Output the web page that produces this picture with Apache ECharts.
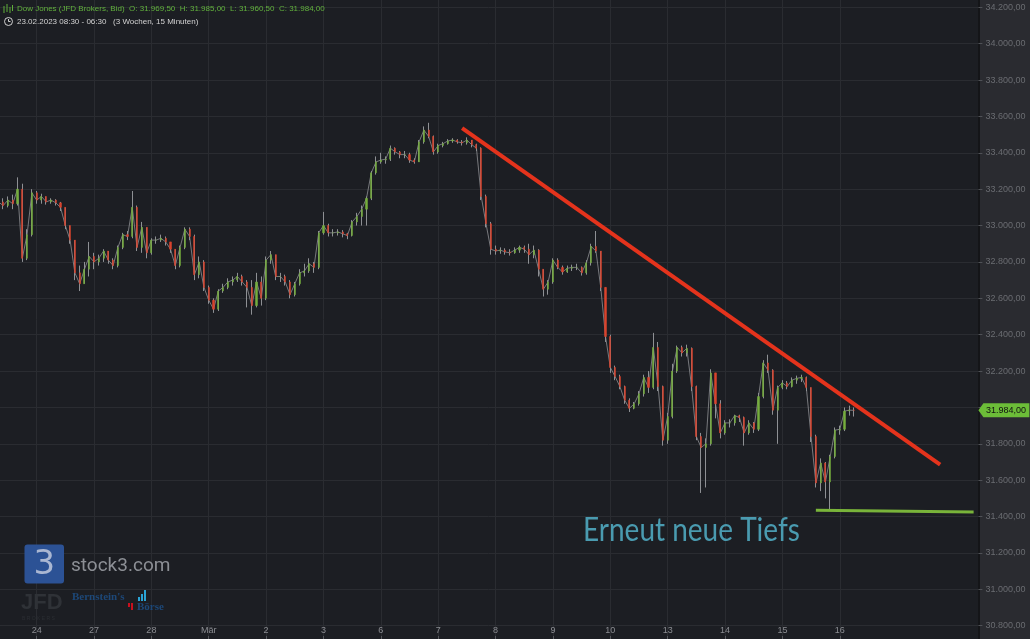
<!DOCTYPE html>
<html>
<head>
<meta charset="utf-8">
<script src="https://cdn.jsdelivr.net/npm/echarts@6/dist/echarts.min.js"></script>
<style>
html,body{margin:0;padding:0;background:#2a2b30;}
#chart{width:1030px;height:639px;}
</style>
</head>
<body>
<div id="chart"></div>
<script>
// ---- data (2-hour candles) ----
const dayLabels = ['23','24','27','28','Mär','2','3','6','7','8','9','10','13','14','15','16'];
const closes = [
33130,33110,33140,33120,33200,32820,32950,33180,
33140,33160,33130,33140,33125,33100,33000,32920,32740,32680,32760,32830,
32800,32820,32860,32810,32780,32880,32950,32940,33100,32880,32990,32850,
32920,32920,32930,32910,32870,32780,32880,32980,32940,32730,32800,32660,
32590,32540,32640,32660,32690,32700,32720,32690,32660,32560,32690,32600,
32810,32840,32720,32720,32690,32620,32680,32740,32750,32790,32770,32960,
33000,32960,32960,32965,32955,32945,33020,33050,33090,33150,33290,33350,
33360,33365,33425,33405,33390,33390,33360,33350,33460,33525,33490,33405,
33440,33450,33465,33470,33460,33455,33470,33445,33425,33160,33010,32870,
32860,32865,32855,32850,32865,32880,32870,32840,32865,32760,32650,32690,
32810,32770,32745,32765,32770,32770,32740,32795,32885,32860,32660,32390,
32220,32170,32115,32040,31995,32020,32075,32165,32110,32330,32115,31820,
31950,32200,32330,32300,32325,32115,31840,31780,31800,32190,32020,31860,
31915,31915,31955,31945,31860,31915,31880,32060,32245,32205,31985,32110,
32135,32115,32150,32160,32165,32110,31840,31585,31695,31590,31730,31875,
31880,31980,31985,31984
];
const highs = [
33160,33150,33160,33170,33265,33230,32980,33200,
33190,33175,33160,33150,33145,33130,33100,33000,32920,32780,32800,32910,
32850,32840,32870,32860,32820,32890,32960,32970,33190,33110,33020,32990,
32930,32940,32950,32940,32910,32870,32890,32990,32990,32950,32830,32810,
32670,32600,32650,32680,32710,32720,32740,32730,32700,32700,32740,32720,
32830,32860,32840,32740,32730,32700,32690,32760,32790,32820,32800,32970,
33075,33010,32980,32980,32975,32960,33030,33070,33110,33160,33300,33380,
33400,33380,33440,33430,33410,33410,33400,33370,33470,33545,33565,33495,
33450,33460,33475,33480,33475,33470,33485,33470,33450,33430,33170,33020,
32890,32880,32875,32870,32880,32890,32890,32900,32890,32870,32760,32700,
32820,32820,32780,32780,32785,32790,32775,32810,32900,32970,32860,32660,
32400,32230,32180,32120,32050,32030,32090,32180,32200,32410,32360,32120,
31970,32240,32340,32340,32345,32330,32120,31860,31830,32210,32190,32040,
31930,31935,31960,31960,31950,31930,31920,32080,32260,32290,32210,32120,
32150,32145,32165,32175,32180,32170,32110,31850,31720,31700,31740,31890,
31900,32000,32010,32000
];
const lows = [
33100,33090,33100,33090,33110,32800,32810,32940,
33120,33120,33115,33120,33110,33080,32980,32900,32700,32640,32680,32720,
32760,32780,32800,32790,32760,32770,32870,32920,32930,32860,32850,32820,
32840,32900,32910,32890,32850,32760,32770,32870,32920,32700,32710,32640,
32570,32520,32530,32630,32650,32670,32690,32670,32550,32510,32550,32560,
32590,32790,32700,32690,32670,32600,32610,32670,32720,32740,32740,32760,
32950,32940,32940,32945,32935,32925,32940,33000,33000,33000,33140,33280,
33340,33340,33355,33390,33370,33370,33345,33340,33350,33450,33480,33390,
33395,33430,33445,33455,33450,33440,33445,33430,33410,33140,32990,32840,
32840,32845,32840,32835,32845,32850,32850,32790,32820,32720,32610,32620,
32680,32760,32730,32740,32750,32755,32725,32730,32780,32850,32640,32360,
32190,32150,32100,32020,31975,31990,32010,32060,32080,32100,32090,31790,
31800,31940,32190,32280,32280,32090,31820,31530,31560,31790,31940,31830,
31850,31890,31900,31920,31790,31850,31860,31870,32050,32190,31960,31800,
32100,32100,32110,32130,32140,32090,31810,31560,31540,31500,31440,31720,
31850,31870,31955,31950
];
const lastPrice = 31984;
const trendLine = [[97, 33535], [197, 31686]];     // red resistance line
const supportLine = [[171, 31435], [204, 31425]];  // green support line
const yMin = 30600, yMax = 34400, yStep = 200;
const totalSlots = 206;

// ---- build categories (2h slots; first slot of every day carries the label) ----
const categories = [];
dayLabels.forEach((day, di) => {
  const n = di === 0 ? 8 : 12;
  for (let s = 0; s < n; s++) categories.push(s === 0 && di > 0 ? day : day + '·' + s);
});
while (categories.length < totalSlots) categories.push('+' + categories.length);
const isDayStart = (idx) => { const v = categories[idx]; return v.indexOf('·') < 0 && v[0] !== '+'; };

const opens = closes.map((c, i) => i === 0 ? c : closes[i - 1]);
const wickData = closes.map((c, i) => [opens[i], c, lows[i], highs[i]]);
const bodyData = closes.map((c, i) => [opens[i], c, Math.min(opens[i], c), Math.max(opens[i], c)]);

function fmt(v) {
  const s = String(Math.round(v));
  return s.slice(0, -3) + '.' + s.slice(-3) + ',00';
}

const chart = echarts.init(document.getElementById('chart'), null, {renderer: 'canvas'});
const F = 'Liberation Sans, Arial, sans-serif';
chart.setOption({
  animation: false,
  backgroundColor: '#2a2b30',
  grid: {
    left: -1.6, top: -29.1, width: 980, height: 691.2,
    show: true, backgroundColor: '#1c1e23', borderWidth: 0,
    containLabel: false, outerBoundsMode: 'none'
  },
  xAxis: {
    type: 'category',
    data: categories,
    boundaryGap: false,
    offset: -26.1,
    axisLine: {show: false},
    axisTick: {show: true, interval: (i) => isDayStart(i), length: 5, lineStyle: {color: '#55575c'}},
    axisLabel: {
      show: true, inside: true, margin: 1, interval: (i) => isDayStart(i),
      formatter: (v) => v, color: '#8b8d92', fontSize: 9, fontFamily: F
    },
    splitLine: {show: true, interval: (i) => isDayStart(i), lineStyle: {color: '#2a2c31', width: 1}}
  },
  yAxis: {
    type: 'value',
    position: 'right',
    min: yMin, max: yMax, interval: yStep,
    axisLine: {show: true, lineStyle: {color: '#141518', width: 2}},
    axisTick: {show: true, length: 4, lineStyle: {color: '#4f5156'}},
    axisLabel: {margin: 7, color: '#6a6c71', fontSize: 9, fontFamily: F, formatter: fmt},
    splitLine: {show: true, lineStyle: {color: '#2a2c31', width: 1}}
  },
  series: [
    {
      type: 'line', name: 'path', data: closes, symbol: 'none',
      lineStyle: {color: '#8e9094', width: 1, opacity: 0.8}, z: 1
    },
    {
      type: 'candlestick', name: 'wick', data: wickData, barWidth: 1,
      itemStyle: {color: '#8e9094', color0: '#8e9094', borderColor: '#8e9094', borderColor0: '#8e9094', borderWidth: 1},
      z: 2
    },
    {
      type: 'candlestick', name: 'body', data: bodyData, barWidth: 1.6,
      itemStyle: {color: '#75ad3d', color0: '#d9432d', borderColor: '#75ad3d', borderColor0: '#d9432d', borderWidth: 0.5},
      z: 3,
      markPoint: {
        symbol: 'path://M0,7L5,0L51,0L51,14L5,14Z',
        symbolSize: [51, 14],
        symbolOffset: [25.5, 0],
        itemStyle: {color: '#6cbd38'},
        label: {show: true, position: 'inside', offset: [2, 0], formatter: () => fmt(lastPrice), color: '#111', fontSize: 9, fontFamily: F},
        data: [{coord: [totalSlots - 1, lastPrice]}]
      }
    },
    {
      type: 'line', name: 'trend', data: trendLine, symbol: 'none',
      lineStyle: {color: '#e4331c', width: 4, cap: 'butt'}, z: 5
    },
    {
      type: 'line', name: 'support', data: supportLine, symbol: 'none',
      lineStyle: {color: '#79b43a', width: 3}, z: 5
    }
  ],
  graphic: {
    elements: [
      // header icon
      {type: 'rect', z: 10, shape: {x: 3.5, y: 6, width: 1, height: 7}, style: {fill: '#5fae3a'}},
      {type: 'rect', z: 10, shape: {x: 6.5, y: 4, width: 1, height: 8}, style: {fill: '#5fae3a'}},
      {type: 'rect', z: 10, shape: {x: 9.5, y: 7, width: 1, height: 6}, style: {fill: '#5fae3a'}},
      {type: 'rect', z: 10, shape: {x: 12, y: 5, width: 1, height: 6}, style: {fill: '#5fae3a'}},
      {type: 'text', z: 10, x: 17, y: 9, style: {text: 'Dow Jones (JFD Brokers, Bid)  O: 31.969,50  H: 31.985,00  L: 31.960,50  C: 31.984,00', fill: '#62b23d', fontSize: 8, fontFamily: F, verticalAlign: 'middle'}},
      // clock icon
      {type: 'circle', z: 10, shape: {cx: 8.5, cy: 21.5, r: 4}, style: {stroke: '#d0d0d0', fill: null, lineWidth: 1}},
      {type: 'polyline', z: 10, shape: {points: [[8.5, 19], [8.5, 21.5], [10.5, 21.5]]}, style: {stroke: '#d0d0d0', fill: null, lineWidth: 1}},
      {type: 'text', z: 10, x: 17, y: 21.5, style: {text: '23.02.2023 08:30 - 06:30   (3 Wochen, 15 Minuten)', fill: '#d2d2d2', fontSize: 8, fontFamily: F, verticalAlign: 'middle'}},
      // annotation
      {type: 'text', z: 10, x: 583, y: 531, scaleX: 0.875, style: {text: 'Erneut neue Tiefs', fill: '#4a9bb0', fontSize: 32, fontFamily: 'Lato', verticalAlign: 'middle'}},
      // stock3 logo
      {type: 'rect', z: 10, shape: {x: 24.5, y: 544.5, width: 39.5, height: 39, r: 3}, style: {fill: '#2c5295'}},
      {type: 'text', z: 10, x: 44.3, y: 565, style: {text: '3', fill: '#aab7d2', fontSize: 34, fontFamily: 'DejaVu Sans', align: 'center', verticalAlign: 'middle'}},
      {type: 'text', z: 10, x: 71, y: 566, style: {text: 'stock3.com', fill: '#8c8f95', fontSize: 19, fontFamily: 'Roboto', verticalAlign: 'middle'}},
      // JFD brokers
      {type: 'text', z: 10, x: 21, y: 603, style: {text: 'JFD', fill: '#2f3237', fontSize: 22, fontWeight: 'bold', fontFamily: F, verticalAlign: 'middle'}},
      {type: 'text', z: 10, x: 22, y: 618.5, style: {text: 'B R O K E R S', fill: '#2b2e33', fontSize: 5, fontFamily: F, verticalAlign: 'middle'}},
      // Bernstein's Börse
      {type: 'text', z: 10, x: 72, y: 597, style: {text: "Bernstein's", fill: '#1d4878', fontSize: 11, fontWeight: 'bold', fontFamily: 'Liberation Serif', verticalAlign: 'middle'}},
      {type: 'text', z: 10, x: 137, y: 607.5, style: {text: 'Börse', fill: '#1d4878', fontSize: 11, fontWeight: 'bold', fontFamily: 'Liberation Serif', verticalAlign: 'middle'}},
      {type: 'rect', z: 10, shape: {x: 138, y: 597, width: 2, height: 4}, style: {fill: '#2aa4d6'}},
      {type: 'rect', z: 10, shape: {x: 141, y: 594, width: 2, height: 7}, style: {fill: '#2aa4d6'}},
      {type: 'rect', z: 10, shape: {x: 144, y: 590, width: 2, height: 11}, style: {fill: '#2aa4d6'}},
      {type: 'rect', z: 10, shape: {x: 128, y: 603, width: 2, height: 4}, style: {fill: '#c8101e'}},
      {type: 'rect', z: 10, shape: {x: 131, y: 603, width: 2, height: 7}, style: {fill: '#c8101e'}}
    ]
  }
});
</script>
</body>
</html>
